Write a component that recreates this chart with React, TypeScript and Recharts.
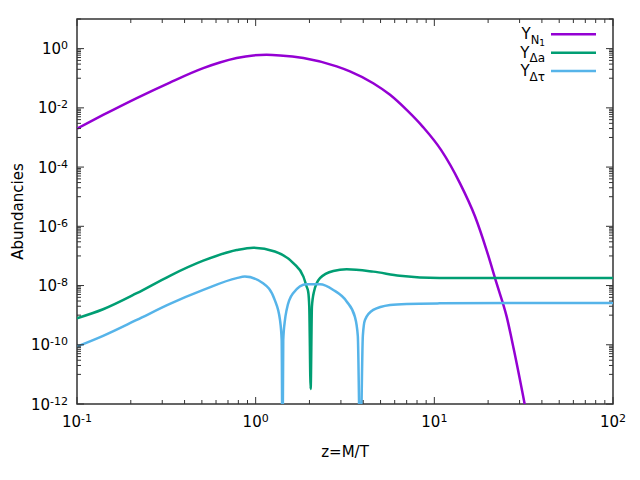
import React from "react";
import { Legend, Line, LineChart, ReferenceArea, XAxis, YAxis } from "recharts";

const FONT = "'DejaVu Sans', sans-serif";
const INK = "#000";
const FRAME = "#333";

// plot box in page pixels (gnuplot-like layout)
const LEFT = 77;
const RIGHT = 613;
const TOP = 19;
const BOTTOM = 404;

const N1_COLOR = "#9400d3";
const DA_COLOR = "#009e73";
const DT_COLOR = "#56b4e9";

// z = M/T and abundances
const n1Z = [0.1, 0.14, 0.216, 0.331, 0.509, 0.63, 0.783, 0.97, 1.15, 1.37, 1.85, 2.84, 3.37, 4.55, 5.65, 7.0, 8.67, 10.9, 13.9, 16.9, 19.6, 22.3, 25.4, 27.9, 32.1, 34];
const n1Y = [2.0e-3, 5.75e-3, 2.14e-2, 7.16e-2, 0.219, 0.339, 0.479, 0.589, 0.617, 0.589, 0.479, 0.251, 0.17, 0.0676, 0.0275, 8.5e-3, 2.2e-3, 3.8e-4, 2.88e-5, 2.14e-6, 1.58e-7, 1.2e-8, 8.9e-10, 6.6e-11, 9.3e-13, 1.5e-13];

const daZ = [0.1, 0.14, 0.216, 0.331, 0.509, 0.783, 0.97, 1.28, 1.63, 1.85, 1.93, 1.968, 1.995, 2.031, 2.065, 2.12, 2.29, 2.72, 3.23, 4.55, 6.41, 10.7, 20, 50, 100];
const daY = [7.85e-10, 1.58e-9, 5.5e-9, 2.14e-8, 6.9e-8, 1.58e-7, 1.9e-7, 1.41e-7, 5.6e-8, 2.0e-8, 9.1e-9, 6.2e-9, 1.95e-9, 3.2e-12, 1.95e-9, 6.2e-9, 1.78e-8, 3.1e-8, 3.55e-8, 2.95e-8, 2.14e-8, 1.78e-8, 1.78e-8, 1.78e-8, 1.78e-8];

const dtZ = [0.1, 0.14, 0.216, 0.331, 0.509, 0.783, 0.87, 1.1, 1.28, 1.368, 1.398, 1.413, 1.427, 1.459, 1.49, 1.62, 1.93, 2.29, 2.72, 3.23, 3.59, 3.73, 3.85, 3.98, 4.09, 4.55, 5.65, 7.0, 10.7, 30, 100];
const dtY = [8.7e-11, 2.0e-10, 6.9e-10, 2.4e-9, 7.1e-9, 1.78e-8, 2.0e-8, 1.2e-8, 3.2e-9, 6.9e-10, 1.45e-10, 1e-14, 1.45e-10, 6.9e-10, 1.5e-9, 5.5e-9, 1.1e-8, 1.1e-8, 7.1e-9, 2.9e-9, 8.9e-10, 2.0e-10, 1e-14, 2.0e-10, 6.9e-10, 1.5e-9, 2.2e-9, 2.4e-9, 2.5e-9, 2.57e-9, 2.57e-9];

const toRows = (zs: number[], ys: number[]) => zs.map((z, i) => ({ z, y: ys[i] }));
const n1Data = toRows(n1Z, n1Y);
const daData = toRows(daZ, daY);
const dtData = toRows(dtZ, dtY);

// log ticks: decades on x with 2..9 minors; every 2nd decade labelled on y
const xTicks: number[] = [];
for (const d of [0.1, 1, 10]) for (let k = 1; k < 10; k++) xTicks.push(+(d * k).toPrecision(3));
xTicks.push(100);

const yTicks: number[] = [];
for (let e = -12; e <= 0; e += 2) yTicks.push(Math.pow(10, e));
for (let e = -10; e <= 2; e += 2)
  for (let k = 1; k <= 9; k++) {
    const v = +(k * Math.pow(10, e - 1)).toPrecision(3);
    if (v <= 10) yTicks.push(v);
  }
yTicks.sort((a, b) => a - b);

const decade = (v: number) => {
  const l = Math.log10(v);
  return Math.abs(l - Math.round(l)) < 1e-6 ? Math.round(l) : null;
};

function XTick({ x, payload }: any) {
  const e = decade(payload.value);
  const len = e !== null ? 7 : 4;
  return (
    <g>
      <line x1={x} x2={x} y1={BOTTOM} y2={BOTTOM - len} stroke={FRAME} />
      <line x1={x} x2={x} y1={TOP} y2={TOP + len} stroke={FRAME} />
      {e !== null && (
        <text x={x} y={BOTTOM + 23} textAnchor="middle" fontFamily={FONT} fontSize={15} fill={INK}>
          10<tspan dy={-5} fontSize={11}>{e}</tspan>
        </text>
      )}
    </g>
  );
}

function YTick({ y, payload }: any) {
  const e = decade(payload.value);
  const major = e !== null && e % 2 === 0;
  const len = major ? 7 : 4;
  return (
    <g>
      <line x1={LEFT} x2={LEFT + len} y1={y} y2={y} stroke={FRAME} />
      <line x1={RIGHT} x2={RIGHT - len} y1={y} y2={y} stroke={FRAME} />
      {major && (
        <text x={68} y={y + 5.5} textAnchor="end" fontFamily={FONT} fontSize={15} fill={INK}>
          10<tspan dy={-5} fontSize={11}>{e}</tspan>
        </text>
      )}
    </g>
  );
}

function XTitle() {
  return (
    <text x={(LEFT + RIGHT) / 2} y={457} textAnchor="middle" fontFamily={FONT} fontSize={15} fill={INK}>
      z=M/T
    </text>
  );
}

function YTitle() {
  const cy = (TOP + BOTTOM) / 2;
  return (
    <text
      transform={`translate(23, ${cy}) rotate(-90)`}
      textAnchor="middle"
      fontFamily={FONT}
      fontSize={15}
      fill={INK}
    >
      Abundancies
    </text>
  );
}

function KeyBox() {
  const rows = [
    {
      color: N1_COLOR,
      label: (
        <>
          Y<tspan dy={5} fontSize={11.5}>N</tspan>
          <tspan dy={2} fontSize={9}>1</tspan>
        </>
      ),
    },
    {
      color: DA_COLOR,
      label: (
        <>
          Y<tspan dy={4.5} fontSize={12}>Δa</tspan>
        </>
      ),
    },
    {
      color: DT_COLOR,
      label: (
        <>
          Y<tspan dy={4.5} fontSize={12}>Δτ</tspan>
        </>
      ),
    },
  ];
  return (
    <svg width={150} height={70} style={{ display: "block" }}>
      {rows.map((r, i) => {
        const cy = 14.3 + i * 18.4;
        return (
          <g key={i}>
            <text x={85} y={cy + 5} textAnchor="end" fontFamily={FONT} fontSize={15} fill={INK}>
              {r.label}
            </text>
            <line x1={91} x2={136} y1={cy} y2={cy} stroke={r.color} strokeWidth={2.5} />
          </g>
        );
      })}
    </svg>
  );
}

export default function App() {
  return (
    <div style={{ position: "absolute", left: 0, top: 0, width: 640, height: 480, background: "#fff" }}>
      <LineChart width={640} height={480} margin={{ top: TOP, right: 640 - RIGHT, bottom: 46, left: LEFT - 60 }}>
        <XAxis
          dataKey="z"
          type="number"
          scale="log"
          domain={[0.1, 100]}
          allowDataOverflow
          ticks={xTicks}
          interval={0}
          height={30}
          axisLine={false}
          tickLine={false}
          tick={(p: any) => <XTick {...p} />}
          label={<XTitle />}
        />
        <YAxis
          dataKey="y"
          type="number"
          scale="log"
          domain={[1e-12, 10]}
          allowDataOverflow
          ticks={yTicks}
          interval={0}
          width={60}
          axisLine={false}
          tickLine={false}
          tick={(p: any) => <YTick {...p} />}
          label={<YTitle />}
        />
        <ReferenceArea
          x1={0.1}
          x2={100}
          y1={1e-12}
          y2={10}
          fill="none"
          stroke={FRAME}
          strokeWidth={1.5}
          ifOverflow="visible"
        />
        <Line data={n1Data} dataKey="y" name="n1" type="monotone" stroke={N1_COLOR} strokeWidth={2.5} dot={false} isAnimationActive={false} />
        <Line data={daData} dataKey="y" name="da" type="monotone" stroke={DA_COLOR} strokeWidth={2.5} dot={false} isAnimationActive={false} />
        <Line data={dtData} dataKey="y" name="dt" type="monotone" stroke={DT_COLOR} strokeWidth={2.5} dot={false} isAnimationActive={false} />
        <Legend
          layout="vertical"
          align="center"
          verticalAlign="middle"
          content={() => <KeyBox />}
          wrapperStyle={{ position: "absolute", left: 460, top: 20, width: 150, height: 70 }}
        />
      </LineChart>
    </div>
  );
}
